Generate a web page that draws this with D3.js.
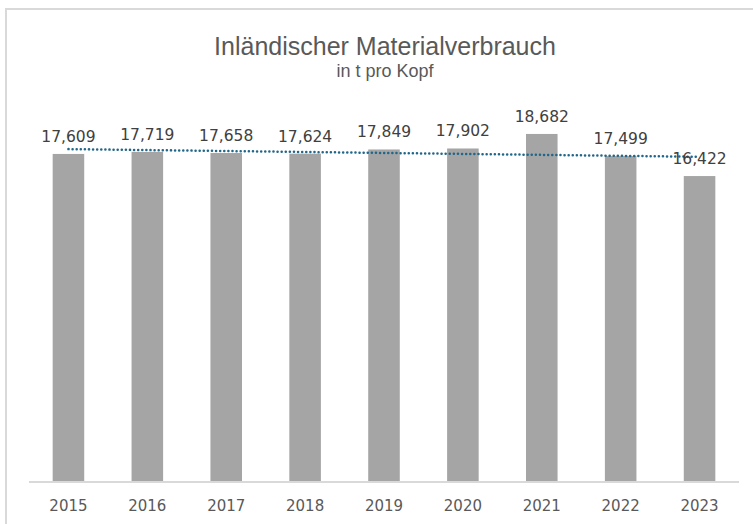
<!DOCTYPE html>
<html>
<head>
<meta charset="utf-8">
<script src="https://cdn.jsdelivr.net/npm/d3@7"></script>
<style>
  body { margin: 0; background: #fff; }
  svg { display: block; }
</style>
</head>
<body>
<script>
// data
var years = ["2015", "2016", "2017", "2018", "2019", "2020", "2021", "2022", "2023"];
var values = [17.609, 17.719, 17.658, 17.624, 17.849, 17.902, 18.682, 17.499, 16.422];
var title = "Inländischer Materialverbrauch";
var subtitle = "in t pro Kopf";

var W = 753, H = 524;
var svg = d3.select("body").append("svg")
    .attr("width", W)
    .attr("height", H);

// chart frame
svg.append("rect")
    .attr("x", 6).attr("y", 9)
    .attr("width", 760).attr("height", 540)
    .attr("fill", "#fff")
    .attr("stroke", "#d9d9d9")
    .attr("stroke-width", 2);

var x = d3.scaleBand()
    .domain(years)
    .range([29, 739])
    .paddingInner(0.6)
    .paddingOuter(0.3);

var y = d3.scaleLinear()
    .domain([0, 20])
    .range([482, 109.4]);

// titles
svg.append("text")
    .attr("x", 385).attr("y", 55)
    .attr("text-anchor", "middle")
    .attr("font-family", "Liberation Sans, Arial, sans-serif")
    .attr("font-size", 25)
    .attr("fill", "#595959")
    .text(title);

svg.append("text")
    .attr("x", 385).attr("y", 77)
    .attr("text-anchor", "middle")
    .attr("font-family", "Liberation Sans, Arial, sans-serif")
    .attr("font-size", 18)
    .attr("fill", "#595959")
    .text(subtitle);

// bars
svg.selectAll("rect.bar")
    .data(values)
    .enter().append("rect")
    .attr("class", "bar")
    .attr("x", function(d, i) { return x(years[i]); })
    .attr("y", function(d) { return y(d); })
    .attr("width", x.bandwidth())
    .attr("height", function(d) { return y(0) - y(d); })
    .attr("fill", "#a5a5a5");

// x axis
var xAxis = svg.append("g")
    .attr("transform", "translate(0," + y(0) + ")")
    .call(d3.axisBottom(x).tickSize(0).tickPadding(18));
xAxis.select(".domain").attr("stroke", "#d9d9d9").attr("stroke-width", 2)
    .attr("d", "M29,0H739");
xAxis.selectAll("text")
    .attr("font-family", "DejaVu Sans, sans-serif")
    .attr("font-size", 15)
    .attr("fill", "#595959");

// linear trend line (least squares over category index)
var n = values.length;
var mx = (n - 1) / 2, my = d3.mean(values);
var sxy = d3.sum(values, function(d, i) { return (i - mx) * (d - my); });
var sxx = d3.sum(values, function(d, i) { return (i - mx) * (i - mx); });
var slope = sxy / sxx, icpt = my - slope * mx;
var trend = years.map(function(yr, i) { return [x(yr) + x.bandwidth() / 2, y(icpt + slope * i)]; });

svg.append("path")
    .attr("d", d3.line()(trend))
    .attr("fill", "none")
    .attr("stroke", "#20678a")
    .attr("stroke-width", 2.5)
    .attr("stroke-linecap", "round")
    .attr("stroke-dasharray", "0.1,4");

// value labels
svg.selectAll("text.val")
    .data(values)
    .enter().append("text")
    .attr("class", "val")
    .attr("x", function(d, i) { return x(years[i]) + x.bandwidth() / 2; })
    .attr("y", function(d) { return y(d) - 12; })
    .attr("text-anchor", "middle")
    .attr("font-family", "DejaVu Sans, sans-serif")
    .attr("font-size", 15.5)
    .attr("fill", "#404040")
    .text(function(d) { return d3.format(".3f")(d).replace(".", ","); });
</script>
</body>
</html>
